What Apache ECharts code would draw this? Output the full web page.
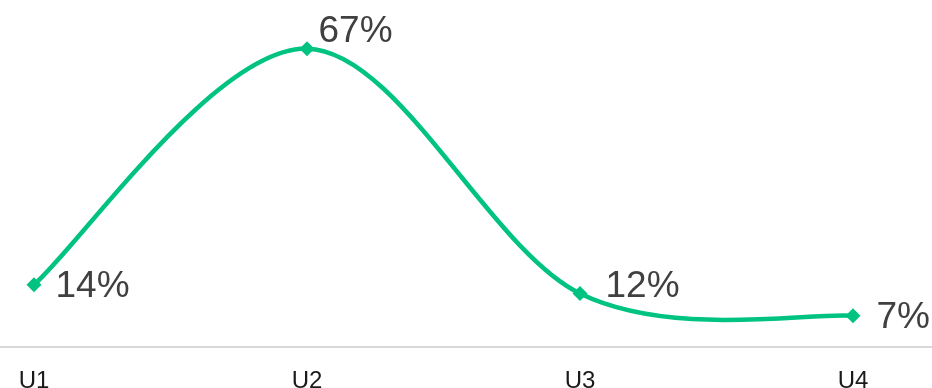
<!DOCTYPE html>
<html><head><meta charset="utf-8">
<script src="https://cdn.jsdelivr.net/npm/echarts@6/dist/echarts.min.js"></script>
<style>html,body{margin:0;padding:0;background:#fff}#c{width:932px;height:388px}</style>
</head><body><div id="c"></div>
<script>
const categories = ['U1', 'U2', 'U3', 'U4'];
const values = [14, 67, 12, 7];
const labelOffsets = [[0, 2], [-10, -17], [4, -7], [2, 2]];
const lineColor = '#00C382';

const chart = echarts.init(document.getElementById('c'));
chart.setOption({
  animation: false,
  grid: [
    { left: 34, right: 79, top: 13, bottom: 41, outerBoundsMode: 'none', containLabel: false },
    { left: 0, right: 0, top: 13, bottom: 41, outerBoundsMode: 'none', containLabel: false }
  ],
  xAxis: [
    {
      type: 'category', data: categories, boundaryGap: false, gridIndex: 0,
      axisLine: { show: false }, axisTick: { show: false },
      axisLabel: { fontFamily: 'Liberation Sans, Arial', fontSize: 24, color: '#1a1a1a', margin: 22 }
    },
    {
      type: 'category', data: [''], gridIndex: 1,
      axisLine: { show: true, lineStyle: { color: '#d9d9d9', width: 2 } },
      axisTick: { show: false }, axisLabel: { show: false }
    }
  ],
  yAxis: [
    { type: 'value', min: 0, max: 75, show: false, gridIndex: 0 },
    { type: 'value', min: 0, max: 75, show: false, gridIndex: 1 }
  ],
  series: [
    {
      // Smooth curve drawn as a Catmull-Rom spline through the library's coordinates
      type: 'custom', xAxisIndex: 0, yAxisIndex: 0, z: 2, silent: true,
      data: [0],
      renderItem: function (params, api) {
        const pts = values.map((v, i) => api.coord([i, v]));
        let d = 'M' + pts[0][0] + ' ' + pts[0][1];
        for (let i = 0; i < pts.length - 1; i++) {
          const p0 = pts[Math.max(i - 1, 0)], p1 = pts[i], p2 = pts[i + 1], p3 = pts[Math.min(i + 2, pts.length - 1)];
          const c1 = [p1[0] + (p2[0] - p0[0]) / 6, p1[1] + (p2[1] - p0[1]) / 6];
          const c2 = [p2[0] - (p3[0] - p1[0]) / 6, p2[1] - (p3[1] - p1[1]) / 6];
          d += ' C' + c1[0] + ' ' + c1[1] + ' ' + c2[0] + ' ' + c2[1] + ' ' + p2[0] + ' ' + p2[1];
        }
        return {
          type: 'path',
          shape: { pathData: d },
          style: { fill: null, stroke: lineColor, lineWidth: 4.5, lineCap: 'round', lineJoin: 'round' }
        };
      }
    },
    {
      type: 'line', xAxisIndex: 0, yAxisIndex: 0, z: 3,
      data: values.map((v, i) => ({ value: v, label: { offset: labelOffsets[i] } })),
      symbol: 'diamond', symbolSize: 15,
      lineStyle: { width: 0, opacity: 0 },
      itemStyle: { color: lineColor },
      label: {
        show: true, position: 'right', distance: 14,
        formatter: p => p.value + '%',
        fontFamily: 'Liberation Sans, Arial', fontSize: 37, color: '#404040'
      }
    }
  ]
});
</script></body></html>
